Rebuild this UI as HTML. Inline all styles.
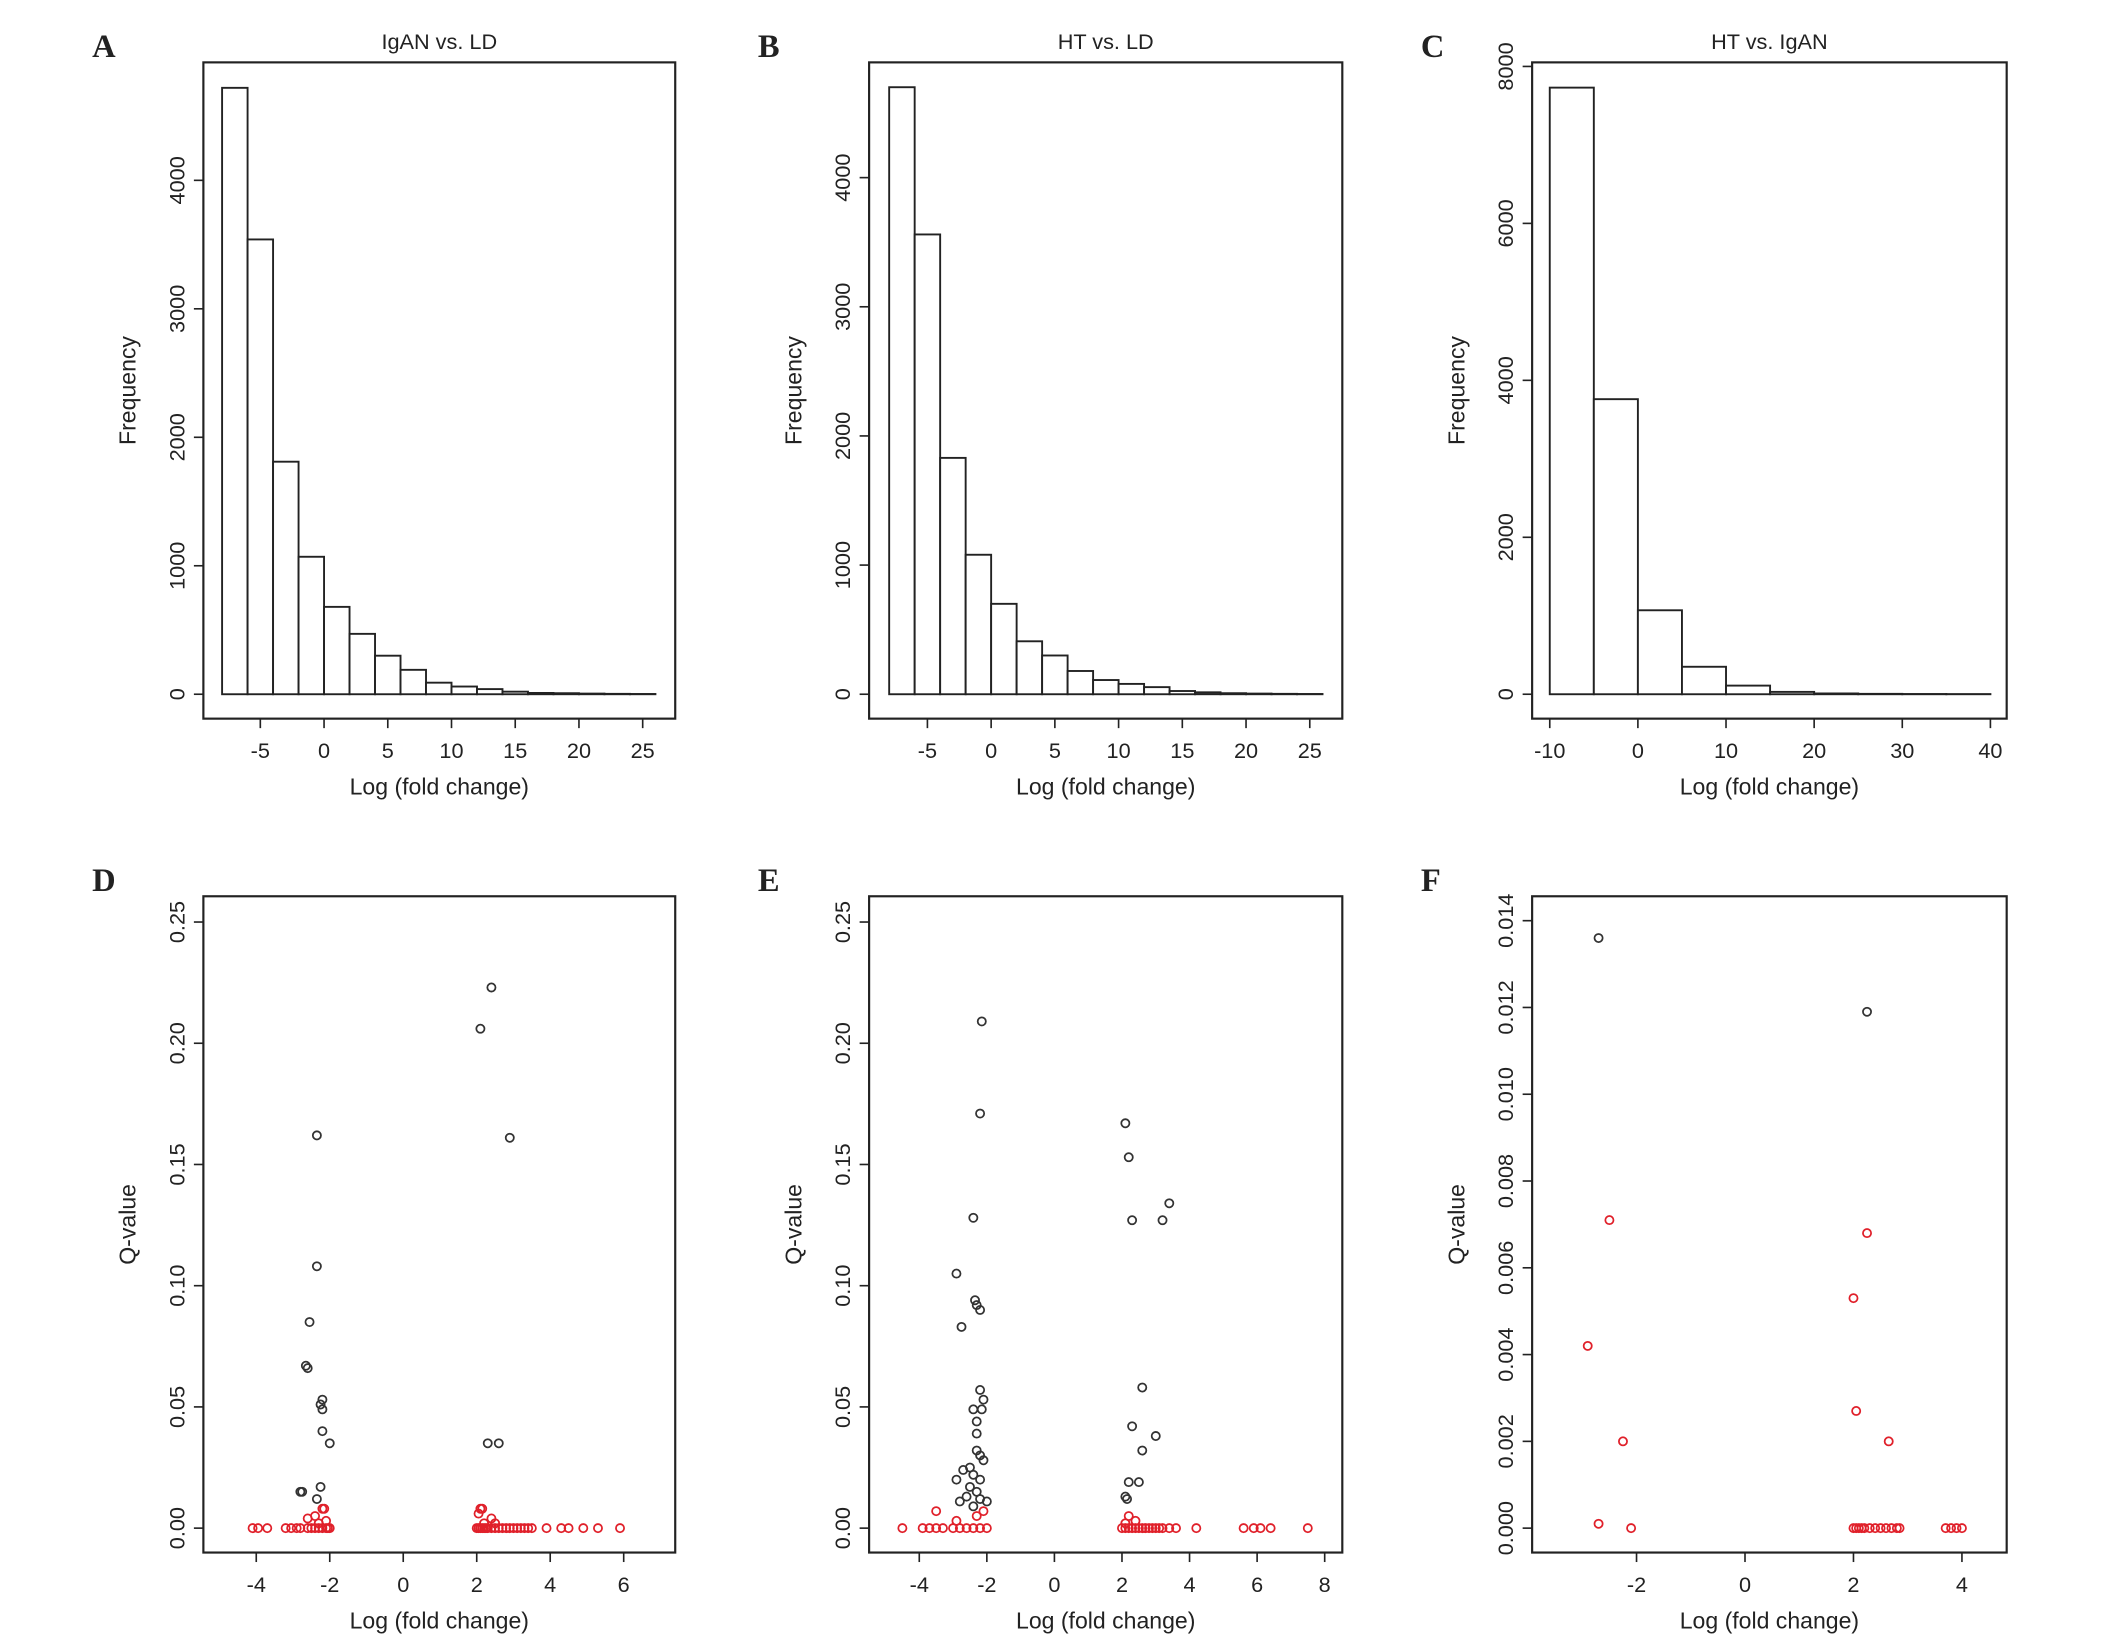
<!DOCTYPE html>
<html><head><meta charset="utf-8"><style>
html,body{margin:0;padding:0;background:#fff}
svg{display:block}
text{font-family:"Liberation Sans",sans-serif;fill:#222}
</style></head><body>
<svg id="fig" width="2126" height="1648" viewBox="0 0 1568 1215.4" preserveAspectRatio="none" xmlns="http://www.w3.org/2000/svg"></svg>
<script>
// ---- Histogram data ----
const histABreaks = [-8,-6,-4,-2,0,2,4,6,8,10,12,14,16,18,20,22,24,26];
const histACounts = [4720,3540,1810,1070,680,470,300,190,90,60,40,20,10,8,5,3,2];
const histBBreaks = [-8,-6,-4,-2,0,2,4,6,8,10,12,14,16,18,20,22,24,26];
const histBCounts = [4700,3560,1830,1080,700,410,300,180,110,80,55,25,15,8,5,3,2];
const histCBreaks = [-10,-5,0,5,10,15,20,25,30,35,40];
const histCCounts = [7730,3760,1070,350,110,30,10,5,3,2];
const histAXTicks = [-5,0,5,10,15,20,25];
const histCXTicks = [-10,0,10,20,30,40];
const histABYTicks = [0,1000,2000,3000,4000];
const histCYTicks = [0,2000,4000,6000,8000];
// ---- Scatter data ----
const dBlackX = [-2.35,-2.35,-2.55,-2.65,-2.6,-2.2,-2.25,-2.2,-2.2,-2.0,-2.25,-2.8,-2.75,-2.35,2.1,2.4,2.9,2.3,2.6];
const dBlackY = [0.162,0.108,0.085,0.067,0.066,0.053,0.051,0.049,0.040,0.035,0.017,0.015,0.015,0.012,0.206,0.223,0.161,0.035,0.035];
const dRedX = [-4.1,-3.95,-3.7,-3.2,-3.05,-2.9,-2.8,-2.6,-2.5,-2.4,-2.3,-2.2,-2.1,-2.05,-2.0,2.0,2.05,2.1,2.15,2.2,2.25,2.3,2.4,2.5,2.6,2.7,2.8,2.9,3.0,3.1,3.2,3.3,3.4,3.5,3.9,4.3,4.5,4.9,5.3,5.9,-2.2,-2.15,-2.4,-2.6,-2.1,-2.3,2.1,2.15,2.05,2.4,2.2,2.5];
const dRedY = [0,0,0,0,0,0,0,0,0,0,0,0,0,0,0,0,0,0,0,0,0,0,0,0,0,0,0,0,0,0,0,0,0,0,0,0,0,0,0,0,0.008,0.008,0.005,0.004,0.003,0.002,0.008,0.008,0.006,0.004,0.002,0.002];
const eBlackX = [-2.15,-2.2,-2.4,-2.9,-2.35,-2.3,-2.2,-2.75,-2.2,-2.1,-2.15,-2.4,-2.3,-2.3,-2.3,-2.2,-2.1,-2.5,-2.7,-2.9,-2.4,-2.2,-2.5,-2.3,-2.6,-2.8,-2.2,-2.0,-2.4,2.1,2.2,2.3,3.2,3.4,2.6,2.3,3.0,2.6,2.2,2.5,2.1,2.15];
const eBlackY = [0.209,0.171,0.128,0.105,0.094,0.092,0.090,0.083,0.057,0.053,0.049,0.049,0.044,0.039,0.032,0.030,0.028,0.025,0.024,0.020,0.022,0.020,0.017,0.015,0.013,0.011,0.012,0.011,0.009,0.167,0.153,0.127,0.127,0.134,0.058,0.042,0.038,0.032,0.019,0.019,0.013,0.012];
const eRedX = [-4.5,-3.9,-3.7,-3.5,-3.3,-3.0,-2.8,-2.6,-2.4,-2.2,-2.0,2.0,2.1,2.2,2.3,2.4,2.5,2.6,2.7,2.8,2.9,3.0,3.1,3.2,3.4,3.6,4.2,5.6,5.9,6.1,6.4,7.5,-3.5,-2.9,-2.3,-2.1,2.2,2.4,2.1];
const eRedY = [0,0,0,0,0,0,0,0,0,0,0,0,0,0,0,0,0,0,0,0,0,0,0,0,0,0,0,0,0,0,0,0,0.007,0.003,0.005,0.007,0.005,0.003,0.002];
const fBlackX = [-2.7,2.25];
const fBlackY = [0.0136,0.0119];
const fRedX = [-2.5,-2.9,-2.25,-2.7,-2.1,2.25,2.0,2.05,2.65,2.0,2.05,2.1,2.15,2.2,2.3,2.4,2.5,2.6,2.7,2.8,2.85,3.7,3.8,3.9,4.0];
const fRedY = [0.0071,0.0042,0.0020,0.0001,0,0.0068,0.0053,0.0027,0.0020,0,0,0,0,0,0,0,0,0,0,0,0,0,0,0,0];
const dXTicks = [-4,-2,0,2,4,6];
const eXTicks = [-4,-2,0,2,4,6,8];
const fXTicks = [-2,0,2,4];
const deYTicks = [0,0.05,0.10,0.15,0.20,0.25];
const deYLabels = ["0.00","0.05","0.10","0.15","0.20","0.25"];
const fYTicks = [0,0.002,0.004,0.006,0.008,0.010,0.012,0.014];
const fYLabels = ["0.000","0.002","0.004","0.006","0.008","0.010","0.012","0.014"];

const NS="http://www.w3.org/2000/svg";
const svg=document.getElementById('fig');
function mk(tag,attrs,parent){const e=document.createElementNS(NS,tag);for(const k in attrs)e.setAttribute(k,attrs[k]);(parent||svg).appendChild(e);return e;}
function lin(d0,d1,p0,p1){return v=>p0+(v-d0)*(p1-p0)/(d1-d0);}

function panel(o){
  const g=mk('g',{});
  
  
  const f=mk('rect',{x:o.L,y:o.T,width:o.R-o.L,height:o.B-o.T,fill:'none',stroke:'#222','stroke-width':1.6},g);
  
  
  const lt=mk('text',{x:o.L-82,y:o.T-4,'font-size':24,'font-weight':'bold',style:'font-family:"Liberation Serif",serif'},g);
  lt.textContent=o.letter;
  
  
  if(o.title){const t=mk('text',{x:(o.L+o.R)/2,y:36,'text-anchor':'middle','font-size':16},g);t.textContent=o.title;
    
    }
  o.xt.forEach((v,i)=>{const x=o.sx(v);mk('line',{x1:x,x2:x,y1:o.B,y2:o.B+7,stroke:'#222','stroke-width':1.2},g);
    const t=mk('text',{x:x,y:o.B+29,'text-anchor':'middle','font-size':16},g);t.textContent=(v<0?'-'+(-v):String(v));
    
    });
  o.yt.forEach((v,i)=>{const y=o.sy(v);mk('line',{x1:o.L-7,x2:o.L,y1:y,y2:y,stroke:'#222','stroke-width':1.2},g);
    const t=mk('text',{x:0,y:0,'text-anchor':'middle','font-size':16,transform:`translate(${o.L-14},${y}) rotate(-90)`},g);t.textContent=o.yl?o.yl[i]:String(v);
    
    });
  const xl=mk('text',{x:(o.L+o.R)/2,y:o.B+56,'text-anchor':'middle','font-size':17},g);xl.textContent='Log (fold change)';
  
  
  const yl=mk('text',{x:0,y:0,'text-anchor':'middle','font-size':17,transform:`translate(${o.L-50},${(o.T+o.B)/2}) rotate(-90)`},g);yl.textContent=o.ytitle;
  
  
  return g;
}
function hist(o,breaks,counts){
  const g=panel(o);
  counts.forEach((c,i)=>{const x0=o.sx(breaks[i]),x1=o.sx(breaks[i+1]),y=o.sy(c),y0=o.sy(0);
    const r=mk('rect',{x:x0,y:y,width:x1-x0,height:y0-y,fill:'#fff',stroke:'#222','stroke-width':1.4},g);
    
    });
}
function scatter(o,bx,by,rx,ry){
  const g=panel(o);
  function pts(xs,ys,col,name){xs.forEach((x,i)=>{const c=mk('circle',{cx:o.sx(x),cy:o.sy(ys[i]),r:3,fill:'none',stroke:col,'stroke-width':1.3},g);
    
    });}
  pts(bx,by,'#333','point-nonsignificant');
  pts(rx,ry,'#e0202a','point-significant');
}
hist({name:'panel-a-histogram',letter:'A',title:'IgAN vs. LD',L:150,R:498,T:46,B:530,sx:lin(0,25,239,474),sy:lin(0,4000,512,133),xt:histAXTicks,yt:histABYTicks,ytitle:'Frequency'},histABreaks,histACounts);
hist({name:'panel-b-histogram',letter:'B',title:'HT vs. LD',L:641,R:990,T:46,B:530,sx:lin(0,25,731,966),sy:lin(0,4000,512,131),xt:histAXTicks,yt:histABYTicks,ytitle:'Frequency'},histBBreaks,histBCounts);
hist({name:'panel-c-histogram',letter:'C',title:'HT vs. IgAN',L:1130,R:1480,T:46,B:530,sx:lin(0,40,1208,1468),sy:lin(0,8000,512,49),xt:histCXTicks,yt:histCYTicks,ytitle:'Frequency'},histCBreaks,histCCounts);
scatter({name:'panel-d-scatter',letter:'D',L:150,R:498,T:661,B:1145,sx:lin(-4,6,189,460),sy:lin(0,0.25,1127,680),xt:dXTicks,yt:deYTicks,yl:deYLabels,ytitle:'Q-value'},dBlackX,dBlackY,dRedX,dRedY);
scatter({name:'panel-e-scatter',letter:'E',L:641,R:990,T:661,B:1145,sx:lin(-4,8,678,977),sy:lin(0,0.25,1127,680),xt:eXTicks,yt:deYTicks,yl:deYLabels,ytitle:'Q-value'},eBlackX,eBlackY,eRedX,eRedY);
scatter({name:'panel-f-scatter',letter:'F',L:1130,R:1480,T:661,B:1145,sx:lin(-2,4,1207,1447),sy:lin(0,0.014,1127,679),xt:fXTicks,yt:fYTicks,yl:fYLabels,ytitle:'Q-value'},fBlackX,fBlackY,fRedX,fRedY);
</script>
</body></html>
